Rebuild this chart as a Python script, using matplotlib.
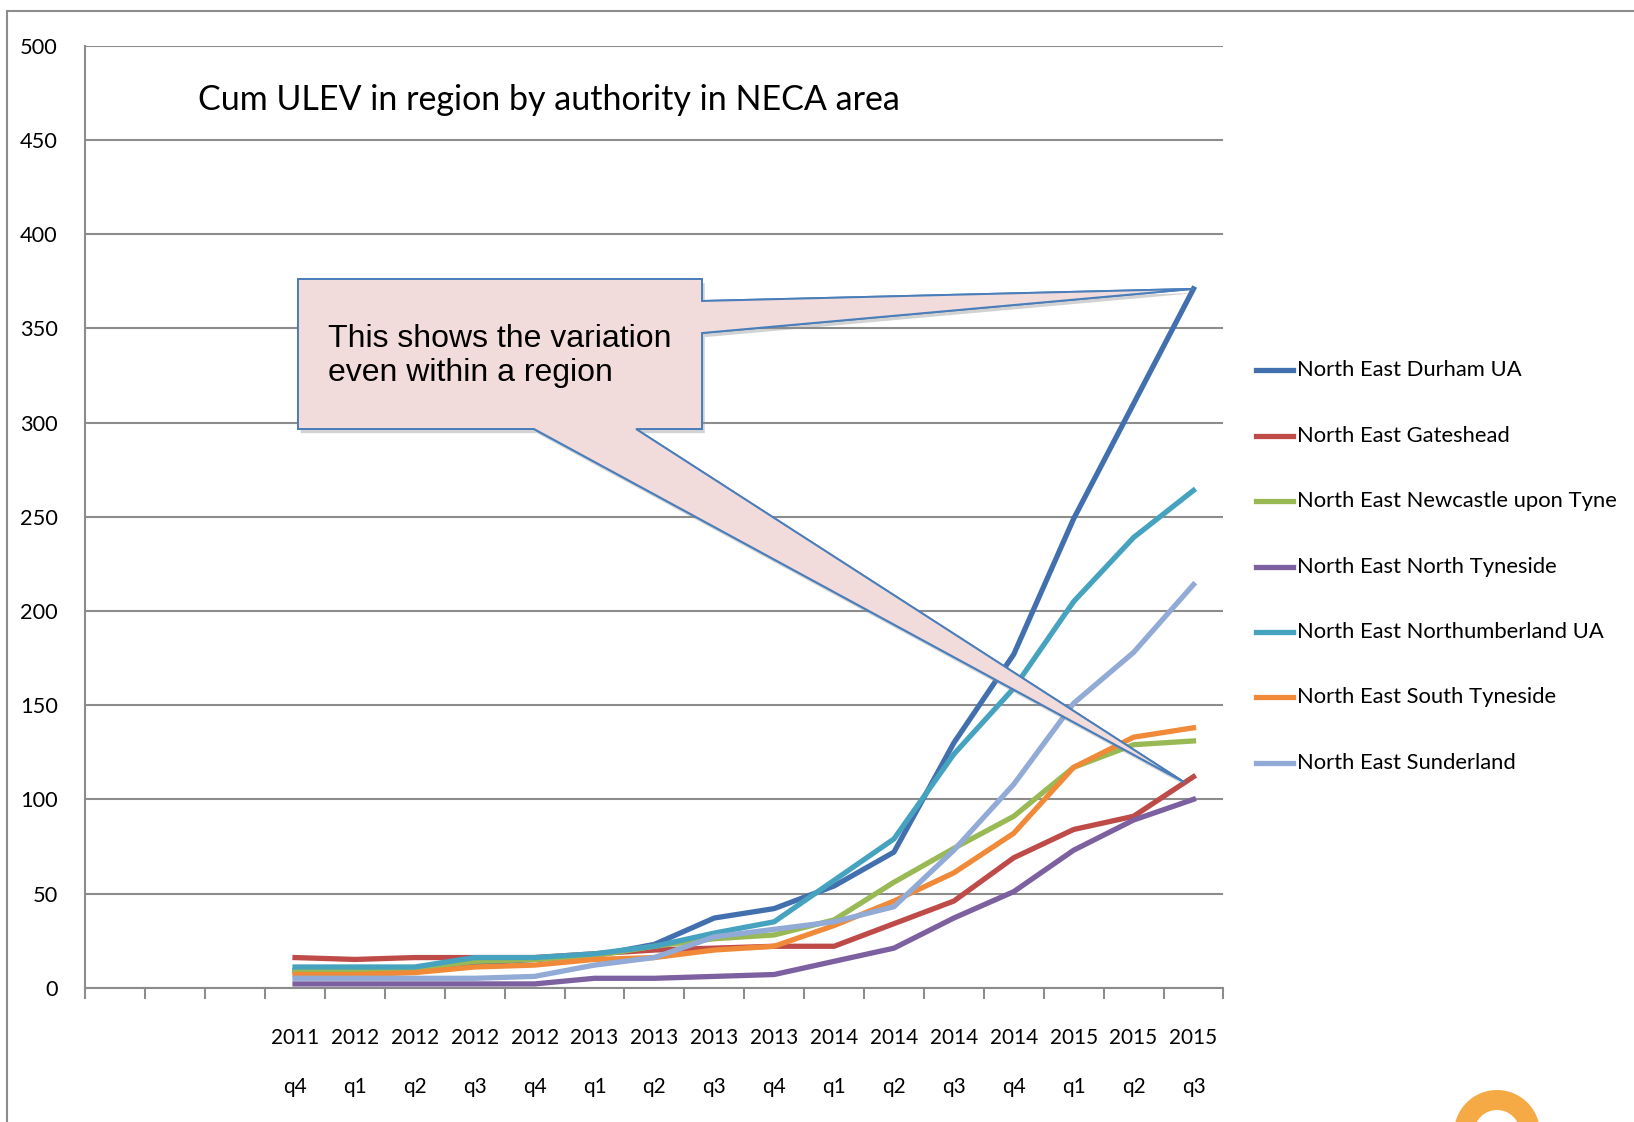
import matplotlib
matplotlib.use("Agg")
import matplotlib.pyplot as plt
import matplotlib.patheffects as pe
import matplotlib.font_manager as fm
from matplotlib.patches import Polygon, Annulus
from matplotlib.lines import Line2D
from matplotlib.transforms import Affine2D
import numpy as np

# quarters shown on the x axis (three empty slots come before the first one)
years = ["2011", "2012", "2012", "2012", "2012", "2013", "2013", "2013",
         "2013", "2014", "2014", "2014", "2014", "2015", "2015", "2015"]
quarters = ["q4", "q1", "q2", "q3", "q4", "q1", "q2", "q3",
            "q4", "q1", "q2", "q3", "q4", "q1", "q2", "q3"]
n_empty = 3

durham = [9, 9, 10, 13, 15, 17, 23, 37, 42, 54, 72, 130, 177, 249, 310, 371]
gateshead = [16, 15, 16, 16, 16, 18, 20, 21, 22, 22, 34, 46, 69, 84, 91, 112]
newcastle = [9, 9, 10, 14, 15, 17, 22, 26, 28, 36, 56, 74, 91, 117, 129, 131]
north_tyneside = [2, 2, 2, 2, 2, 5, 5, 6, 7, 14, 21, 37, 51, 73, 89, 100]
northumberland = [11, 11, 11, 16, 16, 18, 22, 29, 35, 57, 79, 124, 159, 205, 239, 264]
south_tyneside = [7, 7, 8, 11, 12, 15, 16, 20, 22, 33, 46, 61, 82, 117, 133, 138]
sunderland = [5, 5, 5, 5, 6, 12, 16, 27, 31, 35, 43, 73, 108, 151, 178, 214]

names = ["North East Durham UA", "North East Gateshead",
         "North East Newcastle upon Tyne", "North East North Tyneside",
         "North East Northumberland UA", "North East South Tyneside",
         "North East Sunderland"]
series = [durham, gateshead, newcastle, north_tyneside,
          northumberland, south_tyneside, sunderland]
colors = ["#4270AE", "#BE4B48", "#98B954", "#7D60A0",
          "#46A3BF", "#F08A38", "#91AAD6"]

W, H = 1634, 1122
FAM = ["Lato", "DejaVu Sans"]   # Lato is the closest thing to Calibri here


def fp(size):
    return fm.FontProperties(family=FAM, size=size)


fig = plt.figure(figsize=(W / 100, H / 100), dpi=100)
renderer = fig.canvas.get_renderer()

def size_for(s, target_px):
    w, h, d = renderer.get_text_width_height_descent(s, fp(20), ismath=False)
    return 20 * target_px / w

title_size = size_for("Cum ULEV in region by authority in NECA area", 669) * 1.05
tick_size = size_for("2011", 48)
ytick_size = size_for("500", 38)
legend_size = size_for("North East Newcastle upon Tyne", 320)

ax = fig.add_axes([85.4 / W, 1 - 987.7 / H, (1223.4 - 85.4) / W, (987.7 - 45.9) / H])

x = np.arange(len(quarters)) + n_empty
for vals, name, c in zip(series, names, colors):
    ax.plot(x, vals, color=c, lw=3.8, label=name, solid_joinstyle="round")

grid_c = "#8C8C8C"
ax.set_xlim(-0.5, len(quarters) + n_empty - 0.5)
ax.set_ylim(0, 500)
ax.set_yticks(range(0, 501, 50))
ax.yaxis.grid(True, color=grid_c, lw=1.5)
ax.set_axisbelow(True)
for s in ["top", "right"]:
    ax.spines[s].set_visible(False)
for s in ["left", "bottom"]:
    ax.spines[s].set_color(grid_c)
    ax.spines[s].set_linewidth(1.5)

# two-row quarter labels: rows centred near y=1037 and y=1086 px
_, lp_h, lp_d = renderer.get_text_width_height_descent("lp", fp(tick_size), ismath=False)
em_px = tick_size * 100 / 72
row_gap = 44.5
ls = row_gap / (lp_h - lp_d)
top_px = 1037 - (lp_h - lp_d) + 0.36 * em_px
pad_pt = (top_px - 987.7) * 0.72

ax.set_xticks(x)
ax.set_xticklabels([f"{y}\n{q}" for y, q in zip(years, quarters)],
                   fontproperties=fp(tick_size), linespacing=ls)
ax.set_xticks(np.arange(-0.5, len(quarters) + n_empty, 1.0), minor=True)
ax.tick_params(axis="x", which="major", length=0, pad=pad_pt)
ax.tick_params(axis="x", which="minor", length=8, color=grid_c, width=1.5)
ax.tick_params(axis="y", length=0, pad=20)
for lab in ax.get_yticklabels():
    lab.set_fontproperties(fp(ytick_size))

fig.text(198 / W, 1 - 100 / H, "Cum ULEV in region by authority in NECA area",
         fontproperties=fp(title_size), ha="left", va="center")

# legend, one row per series
legend_y = [370, 435.5, 501, 567, 631.5, 697, 763]
for name, c, ly in zip(names, colors, legend_y):
    fig.add_artist(Line2D([1256 / W, 1293 / W], [1 - ly / H, 1 - ly / H],
                          color=c, lw=3.8, transform=fig.transFigure))
    fig.text(1297 / W, 1 - ly / H, name, fontproperties=fp(legend_size),
             ha="left", va="center")

# callout box with two pointers
def to_fig(px, py):
    return (px / W, 1 - py / H)

def data_to_fig(xd, yd):
    return fig.transFigure.inverted().transform(ax.transData.transform((xd, yd)))

tip1 = data_to_fig(x[-1], durham[-1])
tip2 = data_to_fig(x[-1] - 0.15, 109)
verts = [to_fig(298, 279), to_fig(702, 279), to_fig(702, 301), tip1,
         to_fig(702, 333), to_fig(702, 429), to_fig(636, 429), tip2,
         to_fig(534, 429), to_fig(298, 429)]
callout = Polygon(verts, closed=True, transform=fig.transFigure,
                  facecolor="#F2DCDB", edgecolor="#4A7EBB", lw=1.4,
                  joinstyle="miter")
callout.set_path_effects([pe.withSimplePatchShadow(offset=(2, -3),
                                                   shadow_rgbFace="#909090",
                                                   alpha=0.4), pe.Normal()])
fig.patches.append(callout)
fig.text(328 / W, 1 - 356 / H, "This shows the variation\neven within a region",
         family=["Liberation Sans", "DejaVu Sans"], fontsize=23,
         ha="left", va="center", linespacing=1.2)

# slide frame and the edge of the logo peeking in at the bottom right
fig.add_artist(Line2D([7 / W, 1], [1 - 11 / H, 1 - 11 / H], color="#8C8C8C", lw=1.5,
                      transform=fig.transFigure))
fig.add_artist(Line2D([7 / W, 7 / W], [0, 1 - 11 / H], color="#8C8C8C", lw=1.5,
                      transform=fig.transFigure))
fig.patches.append(Annulus((1497, H - 1133), 43, 20, transform=Affine2D(),
                           facecolor="#F6AA45", edgecolor="none"))

fig.savefig("out.png", dpi=100)
